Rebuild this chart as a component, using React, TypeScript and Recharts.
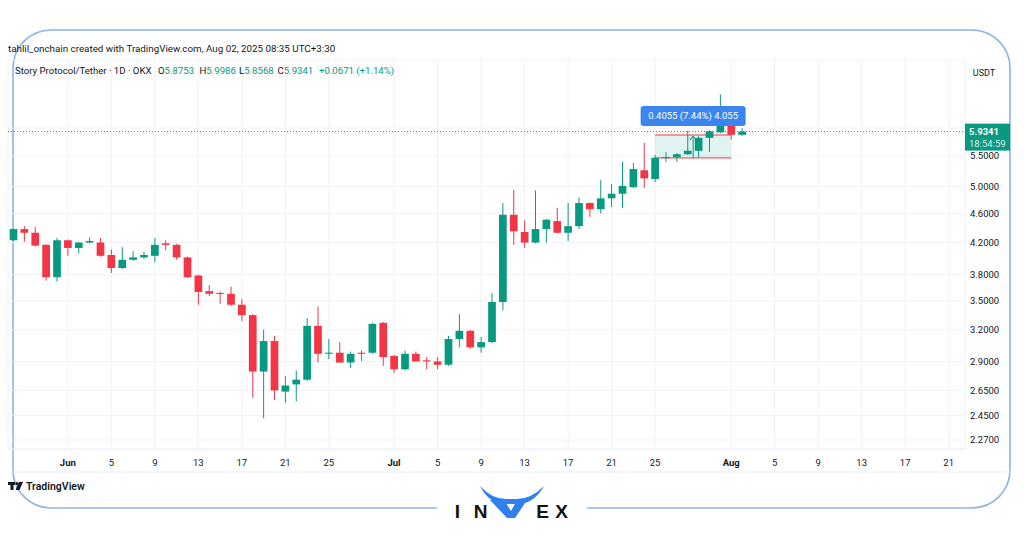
import React from 'react';
import { ComposedChart, Bar, XAxis, YAxis, CartesianGrid, ReferenceLine, ReferenceArea } from 'recharts';

const GREEN = '#089981';
const RED = '#F23645';
const FONT = 'Roboto, "Liberation Sans", Arial, sans-serif';

// ---- data (daily candles, May 27 -> Aug 2, 2025) ----
const opens = [
  4.23, 4.38, 4.33, 4.17, 3.77, 4.23, 4.13, 4.20, 4.20, 4.04,
  3.88, 3.98, 4.01, 4.03, 4.19, 4.17, 4.01, 3.79, 3.61, 3.59,
  3.58, 3.46, 3.35, 2.81, 3.09, 2.64, 2.70, 2.74, 3.24, 2.97,
  2.98, 2.89, 2.98, 2.98, 3.27, 2.95, 2.83, 2.97, 2.91, 2.90,
  2.87, 3.11, 3.19, 3.03, 3.08, 3.49, 4.58, 4.34, 4.20, 4.38,
  4.49, 4.33, 4.42, 4.75, 4.66, 4.82, 4.89, 4.99, 5.26, 5.12,
  5.47, 5.48, 5.53, 5.59, 5.82, 5.92, 6.04, 5.8753,
];
const highs = [
  4.39, 4.42, 4.41, 4.18, 4.26, 4.24, 4.21, 4.27, 4.26, 4.11,
  4.14, 4.09, 4.08, 4.26, 4.23, 4.18, 4.02, 3.80, 3.68, 3.60,
  3.66, 3.52, 3.36, 3.20, 3.14, 2.77, 2.82, 3.32, 3.44, 3.11,
  3.08, 2.99, 3.00, 3.27, 3.28, 2.96, 3.00, 2.99, 2.94, 2.94,
  3.14, 3.36, 3.20, 3.13, 3.59, 4.75, 4.95, 4.50, 4.94, 4.52,
  4.68, 4.75, 4.83, 4.76, 5.10, 5.04, 5.40, 5.38, 5.73, 5.52,
  5.57, 5.55, 5.95, 5.85, 5.96, 6.66, 6.12, 5.9986,
];
const lows = [
  4.22, 4.21, 4.15, 3.73, 3.72, 4.03, 4.06, 4.19, 4.02, 3.82,
  3.87, 3.97, 3.99, 3.95, 4.10, 3.98, 3.76, 3.46, 3.556, 3.47,
  3.45, 3.29, 2.59, 2.43, 2.57, 2.55, 2.56, 2.73, 2.89, 2.92,
  2.885, 2.84, 2.905, 2.97, 2.86, 2.80, 2.82, 2.895, 2.83, 2.83,
  2.86, 3.03, 3.02, 2.98, 3.07, 3.40, 4.17, 4.13, 4.19, 4.20,
  4.32, 4.22, 4.38, 4.55, 4.60, 4.69, 4.68, 4.98, 4.98, 5.07,
  5.40, 5.40, 5.52, 5.47, 5.57, 5.91, 5.79, 5.8568,
];
const closes = [
  4.38, 4.33, 4.16, 3.77, 4.23, 4.13, 4.20, 4.22, 4.03, 3.88,
  3.98, 4.01, 4.04, 4.17, 4.17, 4.01, 3.77, 3.60, 3.58, 3.58,
  3.46, 3.35, 2.81, 3.09, 2.65, 2.69, 2.74, 3.24, 2.97, 2.98,
  2.89, 2.97, 2.97, 3.26, 2.94, 2.83, 2.97, 2.90, 2.90, 2.87,
  3.11, 3.19, 3.03, 3.08, 3.49, 4.58, 4.35, 4.20, 4.38, 4.51,
  4.33, 4.42, 4.75, 4.66, 4.82, 4.89, 5.01, 5.28, 5.13, 5.47,
  5.48, 5.53, 5.59, 5.82, 5.94, 6.04, 5.8753, 5.9341,
];

// categories: one per day from May 27 through Aug 22 (empty future days keep the axis width)
const firstDay = { y: 2025, m: 4, d: 27 };
const dayCount = 88;
const dayKeys: string[] = Array.from({ length: dayCount }, (_, i) =>
  new Date(Date.UTC(firstDay.y, firstDay.m, firstDay.d + i)).toISOString().slice(0, 10)
);

const xTickDates = [
  '2025-06-01', '2025-06-05', '2025-06-09', '2025-06-13', '2025-06-17', '2025-06-21', '2025-06-25',
  '2025-07-01', '2025-07-05', '2025-07-09', '2025-07-13', '2025-07-17', '2025-07-21', '2025-07-25',
  '2025-08-01', '2025-08-05', '2025-08-09', '2025-08-13', '2025-08-17', '2025-08-21',
];
const xTickLabels = [
  'Jun', '5', '9', '13', '17', '21', '25',
  'Jul', '5', '9', '13', '17', '21', '25',
  'Aug', '5', '9', '13', '17', '21',
];
const yTicks = [2.27, 2.45, 2.65, 2.9, 3.2, 3.5, 3.8, 4.2, 4.6, 5.0, 5.5, 6.0];
const yDomain: [number, number] = [2.2077, 7.417];

const lastPrice = 5.9341;
const countdown = '18:54:59';

const measureFrom = '2025-07-25';
const measureTo = '2025-08-01';
const measureLow = 5.4665;
const measureHigh = 5.872;
const measureText = '0.4055 (7.44%) 4.055';

const headerLine = 'tahlil_onchain created with TradingView.com, Aug 02, 2025 08:35 UTC+3:30';
const symbolLine = 'Story Protocol/Tether · 1D · OKX';
const legendKeys = ['O', 'H', 'L', 'C'];
const legendValues = ['5.8753', '5.9986', '5.8568', '5.9341'];
const legendX = [158, 199.5, 239, 277.5];
const legendChange = '+0.0671 (+1.14%)';

const data = dayKeys.map((d, i) => {
  const has = i < opens.length;
  return {
    d,
    o: has ? opens[i] : null,
    h: has ? highs[i] : null,
    l: has ? lows[i] : null,
    c: has ? closes[i] : null,
    rng: has ? [lows[i], highs[i]] : null,
  };
});

const measureSpan = dayKeys.indexOf(measureTo) - dayKeys.indexOf(measureFrom) + 1;

const CHART_W = 1024;
const CHART_H = 538;
const MARGIN = { top: 60, right: 0, bottom: 65, left: 8 };
const X_AXIS_H = 24;
const Y_AXIS_W = 59;

// ---- shapes ----
const Candle = (p: any) => {
  const { x, y, width, height, payload } = p;
  if (!payload || payload.o == null || !isFinite(y) || !isFinite(height)) return null;
  const top = Math.min(y, y + height);
  const bot = Math.max(y, y + height);
  const lh = Math.log(payload.h);
  const ll = Math.log(payload.l);
  const span = lh - ll || 1;
  const py = (v: number) => top + ((bot - top) * (lh - Math.log(v))) / span;
  const cx = x + width / 2;
  const up = payload.c >= payload.o;
  const color = up ? GREEN : RED;
  const yO = py(payload.o);
  const yC = py(payload.c);
  const bw = width * 0.7;
  const bTop = Math.min(yO, yC);
  const bH = Math.max(1, Math.abs(yO - yC));
  return (
    <g>
      <line x1={cx} x2={cx} y1={top} y2={bot} stroke={color} strokeWidth={1} />
      <rect x={cx - bw / 2} y={bTop} width={bw} height={bH} fill={color} />
    </g>
  );
};

const MeasureShape = (p: any) => {
  const band = p.width / measureSpan;
  const x0 = p.x + band / 2;
  const x1 = p.x + p.width - band / 2;
  const y0 = p.y;
  const y1 = p.y + p.height;
  const cx = (x0 + x1) / 2;
  return (
    <g>
      <rect x={x0} y={y0} width={x1 - x0} height={y1 - y0} fill="rgba(8,153,129,0.12)" />
      <line x1={x0} x2={x1} y1={y0} y2={y0} stroke={RED} strokeWidth={1} />
      <line x1={x0} x2={x1} y1={y1} y2={y1} stroke={RED} strokeWidth={1} />
      <line x1={cx} x2={cx} y1={y1} y2={y0 + 1} stroke={GREEN} strokeWidth={1} />
      <path d={`M${cx - 3} ${y0 + 5} L${cx} ${y0 + 1} L${cx + 3} ${y0 + 5}`} stroke={GREEN} fill="none" strokeWidth={1} />
    </g>
  );
};

const MeasureLabel = (p: any) => {
  const cx = p.x + p.width / 2;
  const w = 105;
  const h = 20;
  const yb = p.y - 9;
  return (
    <g>
      <rect x={cx - w / 2} y={yb - h} width={w} height={h} rx={3} fill="#3a86ee" />
      <text x={cx} y={yb - h / 2} dy="0.35em" textAnchor="middle" fontSize={9.5} fill="#ffffff" fontFamily={FONT}>
        {measureText}
      </text>
    </g>
  );
};

const PriceLine = (p: any) => {
  const left = Math.min(p.x1, p.x2);
  const right = Math.max(p.x1, p.x2);
  const yy = p.y1;
  return (
    <g>
      <line x1={left} x2={right} y1={yy} y2={yy} stroke={GREEN} strokeWidth={1} strokeDasharray="1 2" />
      <rect x={right} y={yy - 8} width={45} height={27} fill={GREEN} />
      <text x={right + 4} y={yy + 3.5} fontSize={9.5} fontWeight={700} fill="#fff" fontFamily={FONT}>
        {lastPrice.toFixed(4)}
      </text>
      <text x={right + 4} y={yy + 15} fontSize={9.5} fill="rgba(255,255,255,0.85)" fontFamily={FONT}>
        {countdown}
      </text>
    </g>
  );
};

const XTick = (p: any) => {
  const i = xTickDates.indexOf(p.payload.value);
  if (i < 0) return null;
  const lab = xTickLabels[i];
  const month = isNaN(Number(lab));
  return (
    <text x={p.x} y={p.y + 16.5} textAnchor="middle" fontSize={9.5} fill="#131722" fontWeight={month ? 700 : 400} fontFamily={FONT}>
      {lab}
    </text>
  );
};

const YTick = (p: any) => (
  <text x={p.x + 5} y={p.y} dy="0.35em" textAnchor="start" fontSize={9.5} fill="#131722" fontFamily={FONT}>
    {Number(p.payload.value).toFixed(4)}
  </text>
);

export default function App() {
  const framePath =
    'M 437 508 H 51 A 38 38 0 0 1 13 470 V 68 A 38 38 0 0 1 51 30 H 972 A 38 38 0 0 1 1010 68 V 470 A 38 38 0 0 1 972 508 H 587';
  const overlayMargin = {
    top: MARGIN.top,
    left: MARGIN.left,
    right: MARGIN.right + Y_AXIS_W,
    bottom: MARGIN.bottom + X_AXIS_H,
  };
  return (
    <div style={{ position: 'absolute', left: 0, top: 0, width: 1024, height: 538, background: '#fff', overflow: 'hidden' }}>
      <svg style={{ position: 'absolute', left: 0, top: 0 }} width={1024} height={538}>
        <path d={framePath} fill="none" stroke="#8ab3e8" strokeWidth={1.6} />
        <line x1={13} x2={1010} y1={472} y2={472} stroke="#eceef3" strokeWidth={1} />
      </svg>
      <div style={{ position: 'absolute', left: 0, top: 0 }}>
        <ComposedChart width={CHART_W} height={CHART_H} data={data} margin={MARGIN} barCategoryGap={0} barGap={0}>
          <CartesianGrid stroke="#f0f2f7" />
          <XAxis
            dataKey="d"
            type="category"
            ticks={xTickDates}
            interval={0}
            tick={<XTick />}
            tickLine={false}
            tickSize={0}
            tickMargin={0}
            axisLine={{ stroke: '#eceef3' }}
            height={X_AXIS_H}
          />
          <YAxis
            orientation="right"
            scale="log"
            domain={yDomain}
            allowDataOverflow
            ticks={yTicks}
            interval={0}
            width={Y_AXIS_W}
            tick={<YTick />}
            tickLine={false}
            tickSize={0}
            tickMargin={0}
            axisLine={false}
          />
          <ReferenceArea x1={measureFrom} x2={measureTo} y1={measureLow} y2={measureHigh} shape={MeasureShape} ifOverflow="visible" />
          <Bar dataKey="rng" shape={Candle} isAnimationActive={false} />
          <ReferenceArea
            x1={measureFrom}
            x2={measureTo}
            y1={measureLow}
            y2={measureHigh}
            shape={MeasureLabel}
            ifOverflow="visible"
            zIndex={1000}
          />
        </ComposedChart>
      </div>
      {/* top layer: last-price line and its axis tag, drawn above the axis labels */}
      <div style={{ position: 'absolute', left: 0, top: 0, pointerEvents: 'none' }}>
        <ComposedChart width={CHART_W} height={CHART_H} data={data} margin={overlayMargin}>
          <XAxis dataKey="d" type="category" hide />
          <YAxis scale="log" domain={yDomain} allowDataOverflow hide />
          <ReferenceLine y={lastPrice} shape={PriceLine} ifOverflow="visible" />
        </ComposedChart>
      </div>
      <svg style={{ position: 'absolute', left: 0, top: 0, pointerEvents: 'none' }} width={1024} height={538}>
        <text x={8} y={51.5} fontSize={9.8} fill="#131722" fontFamily={FONT}>
          {headerLine}
        </text>
        <text x={15} y={73.5} fontSize={9.6} fill="#131722" fontFamily={FONT}>
          {symbolLine}
        </text>
        {legendKeys.map((k, i) => (
          <text key={k} x={legendX[i]} y={73.5} fontSize={9.6} fontFamily={FONT}>
            <tspan fill="#131722">{k}</tspan>
            <tspan fill={GREEN}>{legendValues[i]}</tspan>
          </text>
        ))}
        <text x={319} y={73.5} fontSize={9.6} fill={GREEN} fontFamily={FONT}>
          {legendChange}
        </text>
        <text x={984} y={76} textAnchor="middle" fontSize={9} fill="#131722" fontFamily={FONT}>
          USDT
        </text>
        {/* TradingView logo */}
        <g fill="#131722">
          <rect x={8} y={482} width={7} height={3} />
          <rect x={10.5} y={482} width={3} height={8} />
          <circle cx={17} cy={483.5} r={1.5} />
          <path d="M19 482 H23 L19.5 490 H15.5 Z" />
        </g>
        <text x={26} y={490} fontSize={10.5} fontWeight={600} fill="#131722" fontFamily={FONT}>
          TradingView
        </text>
        {/* INVEX logo */}
        <g fontFamily='"Liberation Sans", Arial, sans-serif' fontWeight={700} fontSize={19} fill="#111">
          <text x={457.5} y={517.5} textAnchor="middle">I</text>
          <text x={480.5} y={517.5} textAnchor="middle">N</text>
          <text x={542.5} y={517.5} textAnchor="middle">E</text>
          <text x={561.5} y={517.5} textAnchor="middle">X</text>
        </g>
        <g fill="#2f80ed">
          <path d="M480 486 Q492 499 506 499 L517 499 Q531 499 544 486 Q534 504 517 504 L506 504 Q489 504 480 486 Z" />
          <path d="M490 500 L504 500 L511 511 L517 500 L527 500 L515 518 L507 518 Z" />
        </g>
      </svg>
    </div>
  );
}
